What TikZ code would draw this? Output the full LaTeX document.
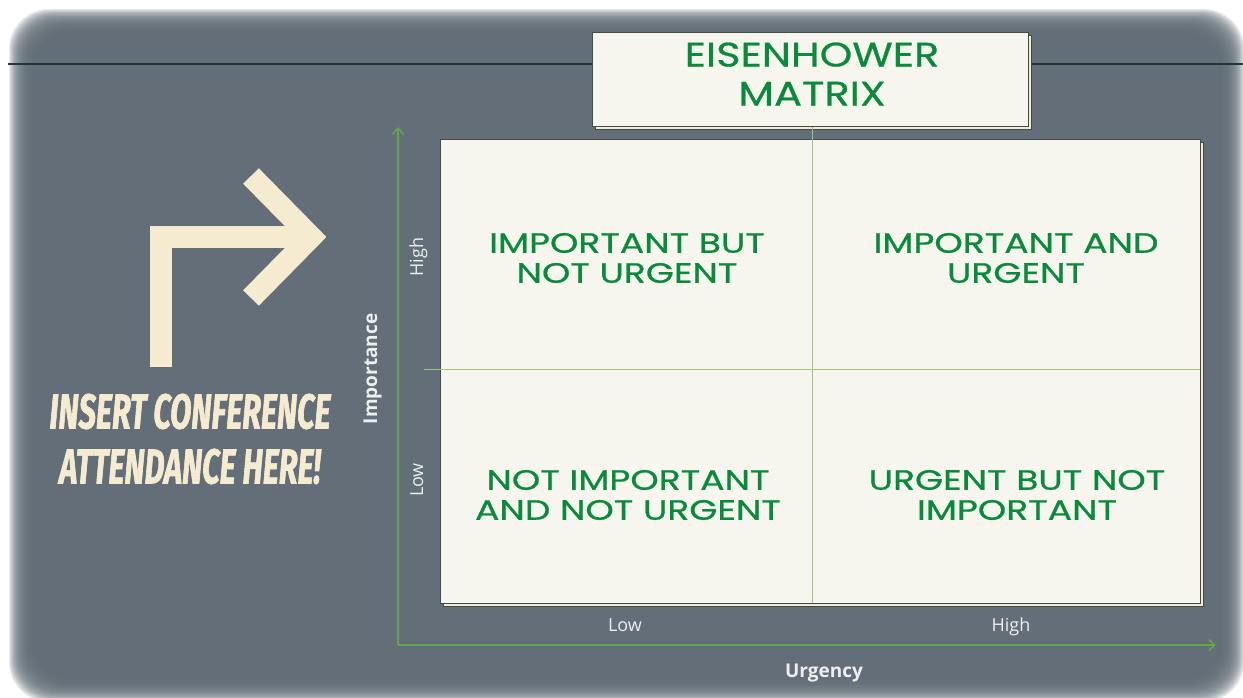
\documentclass[tikz,border=0pt]{standalone}
\usepackage{fontspec}
\usetikzlibrary{arrows.meta}
\setmainfont{Open Sans}
\newfontfamily\boxfont[FakeStretch=1.29,FakeBold=0.8]{Poppins}
\newfontfamily\titlefont[FakeStretch=1.22,FakeBold=0.8]{Poppins}
\newfontfamily\bannerfont[FakeStretch=0.63,FakeBold=1.2]{Fira Sans}
\definecolor{slate}{HTML}{636E78}
\definecolor{cream}{HTML}{F4EBD0}
\definecolor{paper}{HTML}{F6F6EF}
\definecolor{edgeline}{HTML}{3E4D48}
\definecolor{quadgreen}{HTML}{0B8A3C}
\definecolor{axisgreen}{HTML}{62A84A}
\definecolor{splitgreen}{HTML}{97C97A}
\definecolor{rulegreen}{HTML}{1E3A2F}
\definecolor{labelwhite}{HTML}{EDEEEE}
\tikzset{
  card/.style={
    fill=paper,
    draw=edgeline,
    line width=0.9pt
  },
  cardshadow/.style={
    fill=cream,
    draw=edgeline,
    line width=0.9pt
  },
  quadrant/.style={
    text=quadgreen,
    inner sep=0pt,
    align=center,
    font=\boxfont\fontsize{28}{30}\selectfont
  },
  axislabel/.style={
    text=labelwhite,
    inner sep=0pt,
    anchor=base,
    font=\fontsize{18}{20}\selectfont
  },
  axistitle/.style={
    axislabel,
    font=\bfseries\fontsize{19}{20}\selectfont
  },
  axisline/.style={
    draw=axisgreen,
    line width=1.6pt,
    -{Straight Barb[length=6pt,width=11pt,line width=1.6pt]}
  },
  split/.style={
    draw=splitgreen,
    line width=0.8pt
  },
  bent/.style={
    draw=cream,
    line width=22pt,
    miter limit=10
  }
}

\begin{document}
\begin{tikzpicture}[x=1pt,y=-1pt]
  \useasboundingbox (0,0) rectangle (1243,698);
  \fill[white] (0,0) rectangle (1243,698);
  % soft edged backdrop
  \foreach \k in {24,...,1}
    \fill[slate,opacity=0.14,rounded corners=40pt] (33-\k,33-\k) rectangle (1220+\k,678+\k);
  \fill[slate,rounded corners=36pt] (33,33) rectangle (1220,678);
  \draw[rulegreen,line width=1.4pt] (8,64) -- (1243,64);

  % bent arrow and banner
  \draw[bent] (160.5,367) -- (160.5,237) -- (300,237);
  \draw[bent] (251,176) -- (311,237) -- (251,298);
  \node[text=cream,inner sep=0pt,align=center,
    font=\bannerfont\bfseries\itshape\fontsize{49}{55}\selectfont] (banner) at (190,439)
    {INSERT CONFERENCE\\ATTENDANCE HERE!};

  % title card
  \fill[cardshadow] (595,35) rectangle (1031,129);
  \fill[card] (592,32) rectangle (1028,126);
  \node[quadrant,font=\titlefont\fontsize{34}{39}\selectfont] (title) at (812,74)
    {EISENHOWER\\MATRIX};

  % matrix
  \coordinate (origin) at (398,645);
  \coordinate (ytip) at (398,127);
  \coordinate (xtip) at (1216,645);
  \fill[cardshadow] (443,142) rectangle (1203,606);
  \fill[card] (440,139) rectangle (1200,603);
  \coordinate (vtop) at (812,127);
  \coordinate (vbot) at (812,603);
  \coordinate (hleft) at (424,369);
  \coordinate (hright) at (1200,369);
  \draw[split] (vtop) -- (vbot);
  \draw[split] (hleft) -- (hright);
  \draw[axisline] (origin) -- (ytip);
  \draw[axisline] (origin) -- (xtip);

  \node[quadrant] (plan) at (627,258) {IMPORTANT BUT\\NOT URGENT};
  \node[quadrant] (doit) at (1016,258) {IMPORTANT AND\\URGENT};
  \node[quadrant] (drop) at (628,495) {NOT IMPORTANT\\AND NOT URGENT};
  \node[quadrant] (pass) at (1017,495) {URGENT BUT NOT\\IMPORTANT};

  \node[axislabel,rotate=90] (yhigh) at (423,257) {High};
  \node[axislabel,rotate=90] (ylow) at (423,480) {Low};
  \node[axistitle,rotate=90] (ytitle) at (377,369) {Importance};
  \node[axislabel] (xlow) at (625,631) {Low};
  \node[axislabel] (xhigh) at (1011,631) {High};
  \node[axistitle] (xtitle) at (824,677) {Urgency};
\end{tikzpicture}
\end{document}
